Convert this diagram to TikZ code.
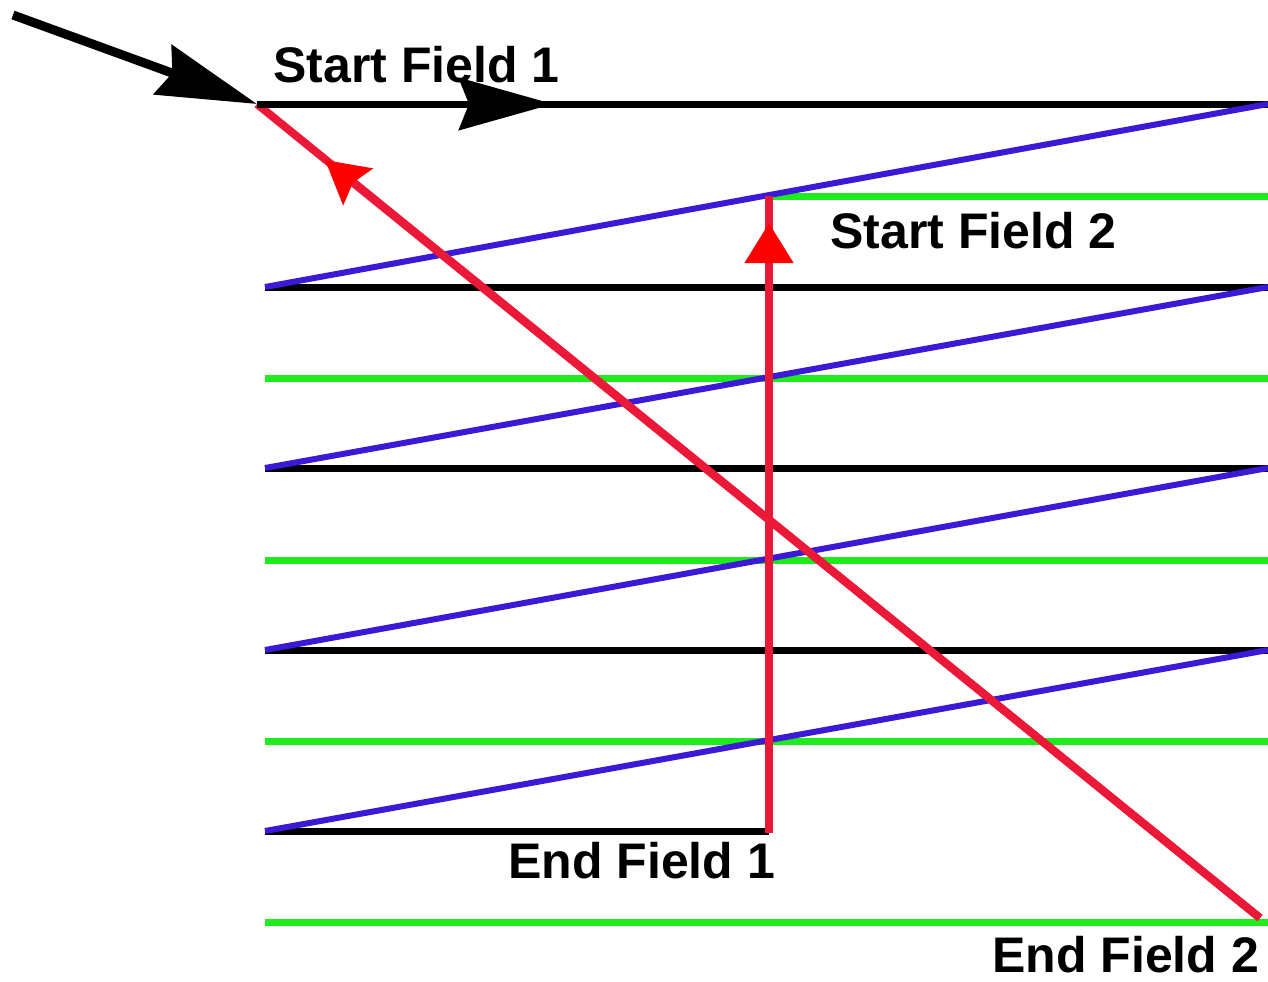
\documentclass[tikz,border=0pt]{standalone}
\usepackage{fontspec}
\setmainfont{Liberation Sans}
\usetikzlibrary{arrows.meta}
\definecolor{fgreen}{RGB}{30,235,30}
\definecolor{fblue}{RGB}{60,25,215}
\definecolor{fred}{RGB}{235,25,55}
\begin{document}
\begin{tikzpicture}[x=0.5pt,y=-0.5pt, line cap=butt,
  fieldone/.style={line width=3.5pt, black},
  fieldtwo/.style={line width=3.5pt, fgreen},
  retrace/.style={line width=3pt, fblue},
  vretrace/.style={line width=4pt, fred},
  blackhead/.style={-{Stealth[length=#1,width=26pt,inset=5pt]}},
  redhead/.style={-{Stealth[length=21pt,width=23pt,inset=3pt,color=red]}},
  uphead/.style={-{Triangle[length=20pt,width=23.5pt,color=red]}},
  lbl/.style={font=\bfseries\fontsize{25}{25}\selectfont, inner sep=0pt, anchor=base west}]
\useasboundingbox (0,0) rectangle (1268,981);

% key points
\coordinate (in) at (13,15);
\coordinate (S1) at (257,104);
\coordinate (a1) at (553,104);
\coordinate (S2) at (769,196);
\coordinate (E1) at (769,833);
\coordinate (E2) at (1260,918);
\coordinate (rtip) at (325,160);
\coordinate (utip) at (769,223);

% black (field 1) lines
\coordinate (b0r) at (1268,104);
\coordinate (b1l) at (265,287); \coordinate (b1r) at (1268,287);
\coordinate (b2l) at (265,468); \coordinate (b2r) at (1268,468);
\coordinate (b3l) at (265,650); \coordinate (b3r) at (1268,650);
\coordinate (b4l) at (265,831); \coordinate (b4r) at (769,831);
% green (field 2) lines
\coordinate (g0r) at (1268,196);
\coordinate (g1l) at (265,378); \coordinate (g1r) at (1268,378);
\coordinate (g2l) at (265,560); \coordinate (g2r) at (1268,560);
\coordinate (g3l) at (265,741); \coordinate (g3r) at (1268,741);
\coordinate (g4l) at (265,922); \coordinate (g4r) at (1268,922);

% green lines
\draw[fieldtwo] (S2) -- (g0r);
\draw[fieldtwo] (g1l) -- (g1r);
\draw[fieldtwo] (g2l) -- (g2r);
\draw[fieldtwo] (g3l) -- (g3r);
\draw[fieldtwo] (g4l) -- (g4r);

% black lines
\draw[fieldone] (S1) -- (b0r);
\draw[fieldone] (b1l) -- (b1r);
\draw[fieldone] (b2l) -- (b2r);
\draw[fieldone] (b3l) -- (b3r);
\draw[fieldone] (b4l) -- (b4r);

% blue retraces
\draw[retrace] (b0r) -- (b1l);
\draw[retrace] (b1r) -- (b2l);
\draw[retrace] (b2r) -- (b3l);
\draw[retrace] (b3r) -- (b4l);

% red vertical retraces
\draw[vretrace] (E1) -- (S2);
\draw[vretrace, uphead] (E1) -- (utip);
\draw[vretrace] (E2) -- (S1);
\draw[vretrace, redhead] (E2) -- (rtip);

% black arrows
\draw[fieldone, line width=4.5pt, blackhead=50pt] (in) -- (S1);
\draw[fieldone, blackhead=47pt] (S1) -- (a1);

% labels
\node[lbl] (t1) at (273,82) {Start Field 1};
\node[lbl] (t2) at (830,248) {Start Field 2};
\node[lbl] (t3) at (508,878) {End Field 1};
\node[lbl] (t4) at (992,972) {End Field 2};
\end{tikzpicture}
\end{document}
